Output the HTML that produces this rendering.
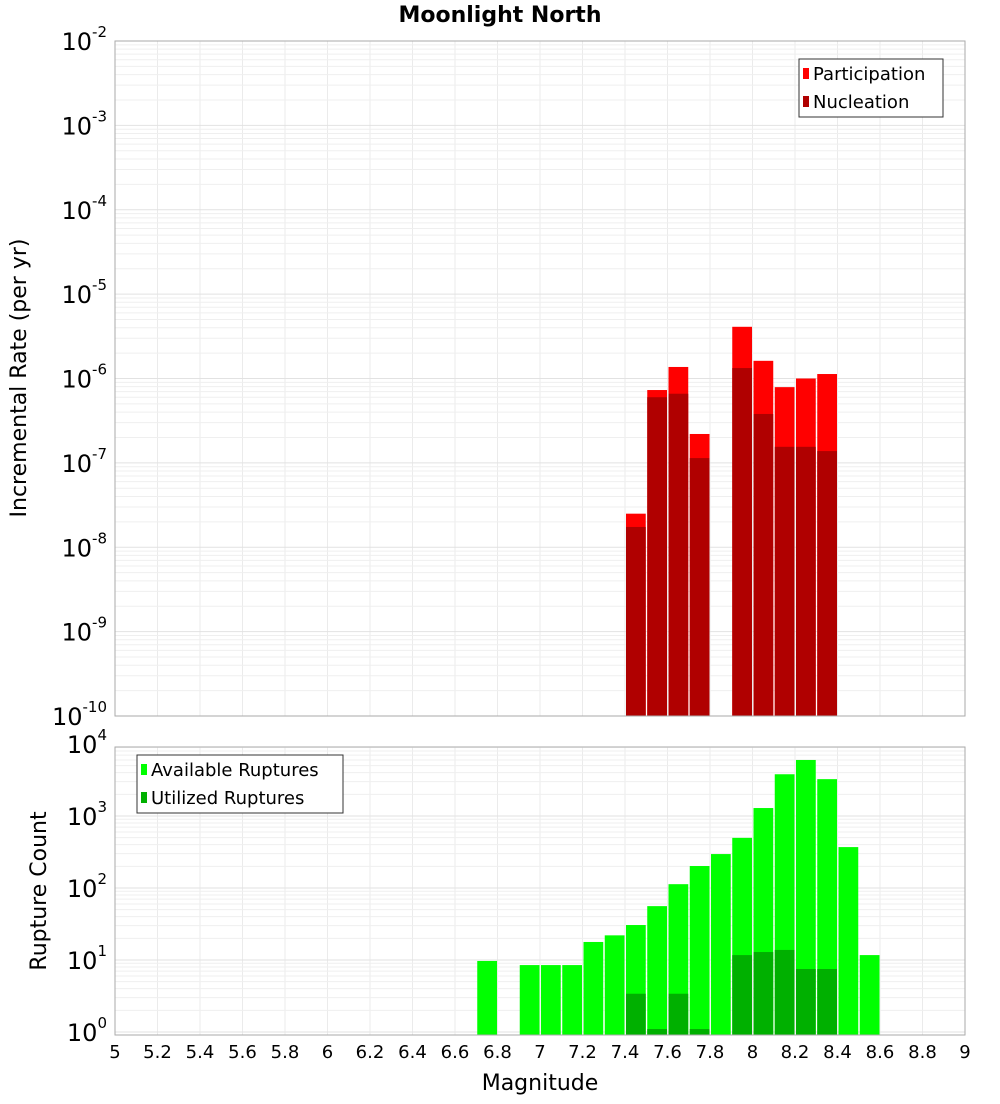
<!DOCTYPE html>
<html><head><meta charset="utf-8"><style>
body{margin:0;background:#fff;font-family:"DejaVu Sans","Liberation Sans",sans-serif}
svg text{font-family:"DejaVu Sans","Liberation Sans",sans-serif}
</style></head><body>
<svg id="c" width="1000" height="1100" xmlns="http://www.w3.org/2000/svg">
<text x="500" y="22" text-anchor="middle" font-size="22" font-weight="bold">Moonlight North</text>
</svg>
<script>
const binStarts=[7.4,7.5,7.6,7.7,7.9,8.0,8.1,8.2,8.3];
const participation=[2.5e-8,7.3e-7,1.37e-6,2.2e-7,4.1e-6,1.62e-6,7.9e-7,1.0e-6,1.13e-6];
const nucleation=[1.74e-8,6.0e-7,6.6e-7,1.14e-7,1.33e-6,3.8e-7,1.55e-7,1.55e-7,1.38e-7];
const countBins=[6.7,6.9,7.0,7.1,7.2,7.3,7.4,7.5,7.6,7.7,7.8,7.9,8.0,8.1,8.2,8.3,8.4,8.5];
const available=[9.7,8.5,8.5,8.5,17.8,22,30.6,56,113,202,296,497,1290,3800,6000,3250,370,11.7];
const utilized=[0,0,0,0,0,0,3.4,1.1,3.4,1.1,0,11.7,12.9,13.8,7.5,7.5,0,0];
const xTicks=[5,5.2,5.4,5.6,5.8,6,6.2,6.4,6.6,6.8,7,7.2,7.4,7.6,7.8,8,8.2,8.4,8.6,8.8,9];
const topExps=[-2,-3,-4,-5,-6,-7,-8,-9,-10];
const botExps=[0,1,2,3,4];
const NS="http://www.w3.org/2000/svg";
const svg=document.getElementById('c');
function mk(t,a,p){const e=document.createElementNS(NS,t);for(const k in a)e.setAttribute(k,a[k]);(p||svg).appendChild(e);return e;}
const X0=115,X1=965;
const xs=m=>X0+(m-5)*(X1-X0)/4;
const yTop=v=>41+(-2-Math.log10(v))*84.375;
const yBot=v=>1032-72*Math.log10(v);
// plot backgrounds
const p1=mk('g',{});
const p2=mk('g',{});
// grids
function grids(g,y0,y1,yf,exps){
  for(let m=5;m<=9.001;m+=0.2){const l=mk('line',{x1:xs(m),x2:xs(m),y1:y0,y2:y1,stroke:'#ebebeb','stroke-width':1},g);}
  for(const e of exps){for(let k=1;k<10;k++){const v=k*Math.pow(10,e);const y=yf(v);if(y<y0||y>y1)continue;mk('line',{x1:X0,x2:X1,y1:y,y2:y,stroke:k==1?'#e2e2e2':'#efefef','stroke-width':1},g);}}
}
grids(p1,41,716,yTop,[-10,-9,-8,-7,-6,-5,-4,-3,-2]);
grids(p2,747,1035,yBot,[-1,0,1,2,3]);
const BW=(X1-X0)/40;
binStarts.forEach((b,i)=>{
  const x=xs(b)+1,w=BW-1.5;
  const r=mk('rect',{x:x,y:yTop(participation[i]),width:w,height:716-yTop(participation[i]),fill:'#ff0000'},p1);
  
  
  const n=mk('rect',{x:x,y:yTop(nucleation[i]),width:w,height:716-yTop(nucleation[i]),fill:'#b00000'},p1);
  
  
});
countBins.forEach((b,i)=>{
  const x=xs(b)+1,w=BW-1.5;
  const r=mk('rect',{x:x,y:yBot(available[i]),width:w,height:1035-yBot(available[i]),fill:'#00ff00'},p2);
  
  
  if(utilized[i]>0){
    const n=mk('rect',{x:x,y:yBot(utilized[i]),width:w,height:1035-yBot(utilized[i]),fill:'#00b000'},p2);
    
    
  }
});
mk('rect',{x:X0,y:41,width:X1-X0,height:675,fill:'none',stroke:'#aaa'},p1);
mk('rect',{x:X0,y:747,width:X1-X0,height:288,fill:'none',stroke:'#aaa'},p2);
// y tick labels
function ylab(e,y,name){
  const t=mk('text',{x:107,y:y+9,'text-anchor':'end','font-size':24});
  
  
  const a=document.createElementNS(NS,'tspan');a.textContent='10';t.appendChild(a);
  const b=document.createElementNS(NS,'tspan');b.setAttribute('dy','-13');b.setAttribute('font-size','15');b.textContent=String(e);t.appendChild(b);
}
topExps.forEach(e=>ylab(e,yTop(Math.pow(10,e)),'rate-y-tick'));
botExps.forEach(e=>ylab(e,yBot(Math.pow(10,e)),'count-y-tick'));
xTicks.forEach(m=>{
  const t=mk('text',{x:xs(m),y:1058,'text-anchor':'middle','font-size':18});
  
  
  t.textContent=String(m);
});
let t=mk('text',{x:540,y:1090,'text-anchor':'middle','font-size':22});


t.textContent='Magnitude';
t=mk('text',{x:0,y:0,'text-anchor':'middle','font-size':22,transform:'translate(26,378) rotate(-90)'});


t.textContent='Incremental Rate (per yr)';
t=mk('text',{x:0,y:0,'text-anchor':'middle','font-size':22,transform:'translate(46,891) rotate(-90)'});


t.textContent='Rupture Count';
// legends
function legend(x,y,w,items,name){
  const g=mk('g',{});
  
  
  mk('rect',{x:x,y:y,width:w,height:58,fill:'#fff',stroke:'#333'},g);
  items.forEach((it,i)=>{
    mk('rect',{x:x+4,y:y+9+i*28,width:6,height:11,fill:it[1]},g);
    const tt=mk('text',{x:x+14,y:y+21+i*28,'font-size':18},g);
    tt.textContent=it[0];
  });
}
legend(799,59,144,[['Participation','#ff0000'],['Nucleation','#b00000']],'rate-legend');
legend(137,755,206,[['Available Ruptures','#00ff00'],['Utilized Ruptures','#00b000']],'count-legend');
</script>
</body></html>
